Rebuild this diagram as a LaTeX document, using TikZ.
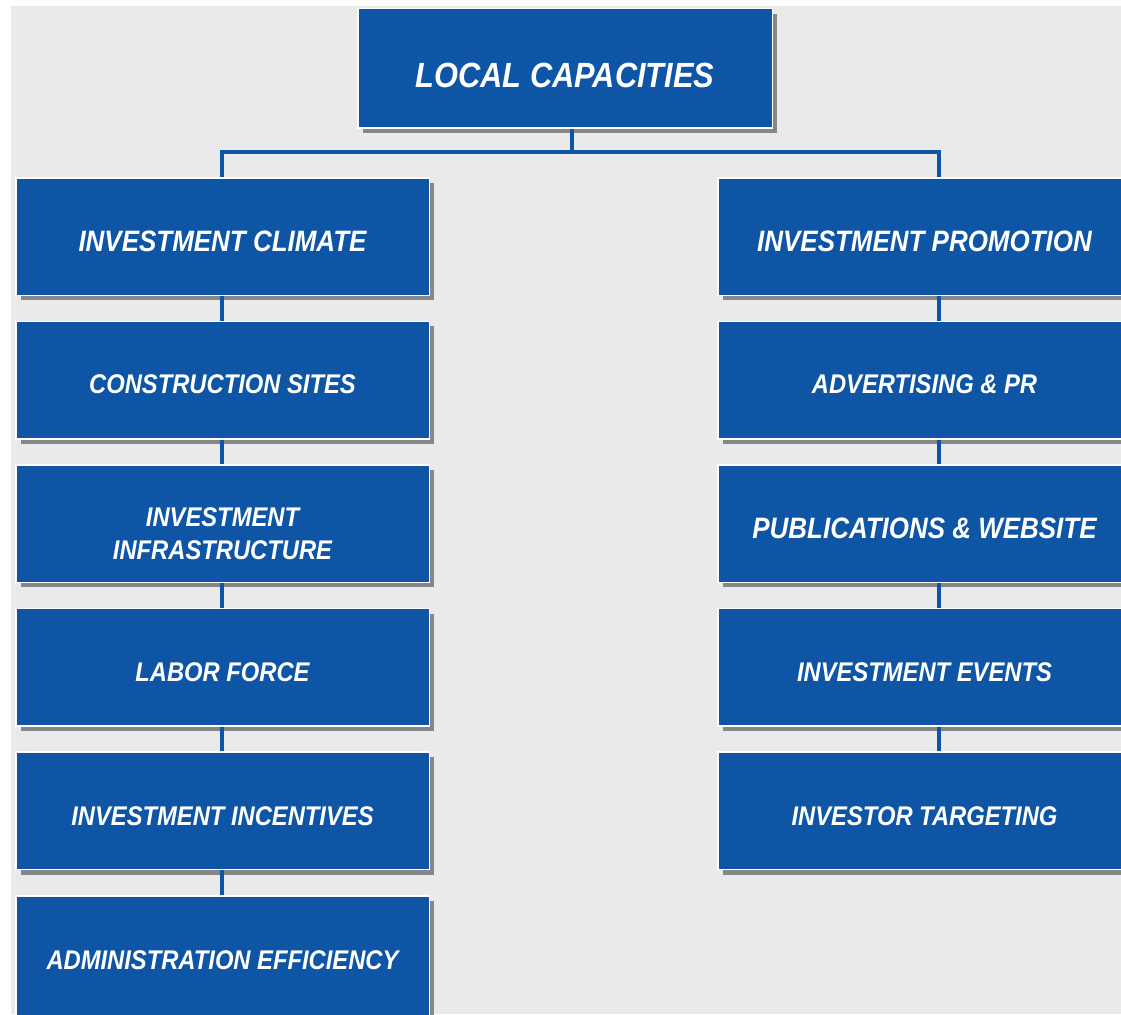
\documentclass[tikz,border=0pt]{standalone}
\usepackage{fontspec}
\usetikzlibrary{shadows}
\newfontfamily\lblfont{Liberation Sans}[FakeStretch=0.88]
\definecolor{boxblue}{RGB}{14,86,165}
\definecolor{bggray}{RGB}{233,234,233}
\definecolor{shadowgray}{RGB}{135,135,135}
\newcommand{\lowered}[2]{\raisebox{-#1}[\height][\depth]{#2}}
\begin{document}
\begin{tikzpicture}[x=1pt,y=-1pt,
  boxnode/.style={rectangle, fill=boxblue, draw=white, line width=1.5pt,
    minimum width=413.5pt, minimum height=117.5pt, inner sep=0pt, text=white,
    drop shadow={shadow xshift=5pt, shadow yshift=-5pt, fill=shadowgray, opacity=1}},
  titletxt/.style={font=\lblfont\bfseries\itshape\fontsize{35}{40}\selectfont},
  bigtxt/.style={font=\lblfont\bfseries\itshape\fontsize{29.5}{33}\selectfont},
  smalltxt/.style={font=\lblfont\bfseries\itshape\fontsize{27}{33}\selectfont},
  link/.style={draw=boxblue, line width=3.5pt}]
\useasboundingbox (0,0) rectangle (1121,1014);
\clip (0,0) rectangle (1121,1014);
\fill[white] (0,0) rectangle (1121,1014);
\fill[bggray] (11,6) rectangle (1121,1014);

% top
\node[boxnode, titletxt, minimum width=414.5pt, minimum height=119.5pt] (lc) at (565,68.5) {\lowered{7pt}{LOCAL CAPACITIES}};

% left column
\node[boxnode, bigtxt]   (ic)  at (222.5,236.5) {\lowered{5pt}{INVESTMENT CLIMATE}};
\node[boxnode, smalltxt] (cs)  at (222.5,380.1) {\lowered{4pt}{CONSTRUCTION SITES}};
\node[boxnode, smalltxt] (ii)  at (222.5,523.7) {\lowered{12.5pt}{\begin{tabular}{@{}c@{}}INVESTMENT\\INFRASTRUCTURE\end{tabular}}};
\node[boxnode, smalltxt] (lf)  at (222.5,667.3) {\lowered{4.5pt}{LABOR FORCE}};
\node[boxnode, smalltxt] (inc) at (222.5,810.9) {\lowered{5pt}{INVESTMENT INCENTIVES}};
\node[boxnode, smalltxt, minimum height=127.5pt] (ae)  at (222.5,959.5) {\lowered{0.5pt}{ADMINISTRATION EFFICIENCY}};

% right column
\node[boxnode, bigtxt]   (ip)  at (924.5,236.5) {\lowered{5pt}{INVESTMENT PROMOTION}};
\node[boxnode, smalltxt] (ap)  at (924.5,380.1) {\lowered{4pt}{ADVERTISING \& PR}};
\node[boxnode, bigtxt]   (pw)  at (924.5,523.7) {\lowered{5pt}{PUBLICATIONS \& WEBSITE}};
\node[boxnode, smalltxt] (ie)  at (924.5,667.3) {\lowered{4.5pt}{INVESTMENT EVENTS}};
\node[boxnode, smalltxt] (it)  at (924.5,810.9) {\lowered{5pt}{INVESTOR TARGETING}};

% connectors
\coordinate (hub) at (572,152);
\draw[link] ([xshift=7pt]lc.south) -- (hub);
\draw[link] ([xshift=-0.5pt]ic.north) |- (hub) -| ([xshift=14.5pt]ip.north);

\draw[link] ([xshift=-0.5pt]ic.south)  -- ([xshift=-0.5pt]cs.north);
\draw[link] ([xshift=-0.5pt]cs.south)  -- ([xshift=-0.5pt]ii.north);
\draw[link] ([xshift=-0.5pt]ii.south)  -- ([xshift=-0.5pt]lf.north);
\draw[link] ([xshift=-0.5pt]lf.south)  -- ([xshift=-0.5pt]inc.north);
\draw[link] ([xshift=-0.5pt]inc.south) -- ([xshift=-0.5pt]ae.north);

\draw[link] ([xshift=14.5pt]ip.south) -- ([xshift=14.5pt]ap.north);
\draw[link] ([xshift=14.5pt]ap.south) -- ([xshift=14.5pt]pw.north);
\draw[link] ([xshift=14.5pt]pw.south) -- ([xshift=14.5pt]ie.north);
\draw[link] ([xshift=14.5pt]ie.south) -- ([xshift=14.5pt]it.north);
\end{tikzpicture}
\end{document}
